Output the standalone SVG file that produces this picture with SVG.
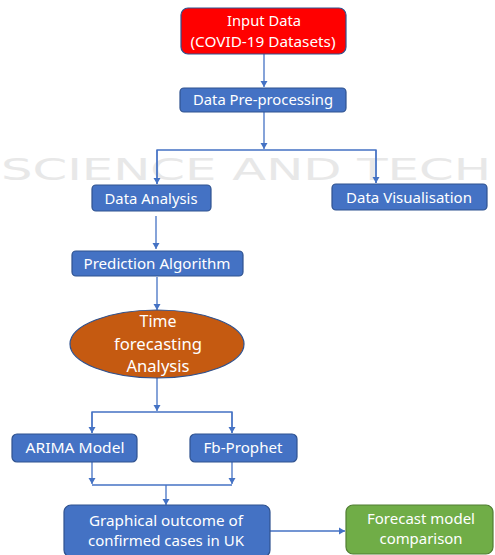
<svg xmlns="http://www.w3.org/2000/svg" width="495" height="555" viewBox="0 0 495 555">
<style>
.bg{fill:#ffffff}
.wm{font-family:"DejaVu Sans",sans-serif;font-size:30px;fill:#e8e8e8}
.box{fill:#4472c4;stroke:#2f528f;stroke-width:1.2}
.red{fill:#ff0000;stroke:#2f528f;stroke-width:1.2}
.green{fill:#70ad47;stroke:#507e32;stroke-width:1.2}
.ell{fill:#c55a11;stroke:#2f528f;stroke-width:1.2}
.t{font-family:"Noto Sans","Open Sans",sans-serif;font-size:14px;fill:#ffffff;text-anchor:middle}
.tl{font-family:"Noto Sans","Open Sans",sans-serif;font-size:15px;fill:#ffffff;text-anchor:middle}
.te{font-family:"Noto Sans","Open Sans",sans-serif;font-size:17px;fill:#ffffff;text-anchor:middle}
.c{fill:none;stroke:#4472c4;stroke-width:1.3}
</style>
<defs>
<marker id="ah" markerWidth="8" markerHeight="8" refX="6" refY="4" orient="auto" markerUnits="userSpaceOnUse">
<path d="M0,0.5 L6,4 L0,7.5 Z" fill="#4472c4"/>
</marker>
</defs>
<rect class="bg" x="0" y="0" width="495" height="555"/>
<text class="wm" x="1" y="180" textLength="490" lengthAdjust="spacingAndGlyphs">SCIENCE AND TECH</text>

<g id="connectors">
<path class="c" d="M264,54 V87" marker-end="url(#ah)"/>
<path class="c" d="M264,112 V149" marker-end="url(#ah)"/>
<path class="c" d="M157,184 V150 H376 V183" />
<path class="c" d="M157,150 V184" marker-end="url(#ah)"/>
<path class="c" d="M376,150 V183" marker-end="url(#ah)"/>
<path class="c" d="M156,216 V249" marker-end="url(#ah)"/>
<path class="c" d="M157,277 V310" marker-end="url(#ah)"/>
<path class="c" d="M157,378 V411" marker-end="url(#ah)"/>
<path class="c" d="M92,433 V412 H232 V433"/>
<path class="c" d="M92,412 V433" marker-end="url(#ah)"/>
<path class="c" d="M232,412 V433" marker-end="url(#ah)"/>
<path class="c" d="M92,462 V484" marker-end="url(#ah)"/>
<path class="c" d="M232,462 V484" marker-end="url(#ah)"/>
<path class="c" d="M92,485 H232"/>
<path class="c" d="M166,485 V505" marker-end="url(#ah)"/>
<path class="c" d="M270,531 H345" marker-end="url(#ah)"/>
</g>

<g id="input-data">
<rect class="red" x="181" y="8" width="165" height="46" rx="7"/>
<text class="tl" x="264" y="26" textLength="74" lengthAdjust="spacingAndGlyphs">Input Data</text>
<text class="tl" x="263" y="47" textLength="145" lengthAdjust="spacingAndGlyphs">(COVID-19 Datasets)</text>
</g>

<g id="data-preprocessing">
<rect class="box" x="180" y="88" width="166" height="24" rx="4"/>
<text class="t" x="263" y="105" textLength="140" lengthAdjust="spacingAndGlyphs">Data Pre-processing</text>
</g>

<g id="data-analysis">
<rect class="box" x="92" y="185" width="119" height="26" rx="4"/>
<text class="t" x="151" y="204" textLength="93" lengthAdjust="spacingAndGlyphs">Data Analysis</text>
</g>

<g id="data-visualisation">
<rect class="box" x="332" y="184" width="155" height="26" rx="4"/>
<text class="t" x="409" y="203" textLength="126" lengthAdjust="spacingAndGlyphs">Data Visualisation</text>
</g>

<g id="prediction-algorithm">
<rect class="box" x="72" y="251" width="171" height="25" rx="4"/>
<text class="t" x="157" y="269" textLength="147" lengthAdjust="spacingAndGlyphs">Prediction Algorithm</text>
</g>

<g id="time-forecasting">
<ellipse class="ell" cx="157" cy="344" rx="87" ry="34"/>
<text class="te" x="158" y="327" textLength="37" lengthAdjust="spacingAndGlyphs">Time</text>
<text class="te" x="158" y="350" textLength="88" lengthAdjust="spacingAndGlyphs">forecasting</text>
<text class="te" x="158" y="372" textLength="63" lengthAdjust="spacingAndGlyphs">Analysis</text>
</g>

<g id="arima">
<rect class="box" x="12" y="434" width="125" height="28" rx="5"/>
<text class="t" x="75" y="453" textLength="99" lengthAdjust="spacingAndGlyphs">ARIMA Model</text>
</g>

<g id="fb-prophet">
<rect class="box" x="190" y="434" width="107" height="28" rx="5"/>
<text class="t" x="243" y="453" textLength="79" lengthAdjust="spacingAndGlyphs">Fb-Prophet</text>
</g>

<g id="graphical-outcome">
<rect class="box" x="64" y="505" width="206" height="52" rx="7"/>
<text class="t" x="166" y="526" textLength="154" lengthAdjust="spacingAndGlyphs">Graphical outcome of</text>
<text class="t" x="166" y="546" textLength="156" lengthAdjust="spacingAndGlyphs">confirmed cases in UK</text>
</g>

<g id="forecast-comparison">
<rect class="green" x="346" y="505" width="147" height="49" rx="7"/>
<text class="t" x="421" y="524" textLength="108" lengthAdjust="spacingAndGlyphs">Forecast model</text>
<text class="t" x="421" y="544" textLength="83" lengthAdjust="spacingAndGlyphs">comparison</text>
</g>
</svg>
